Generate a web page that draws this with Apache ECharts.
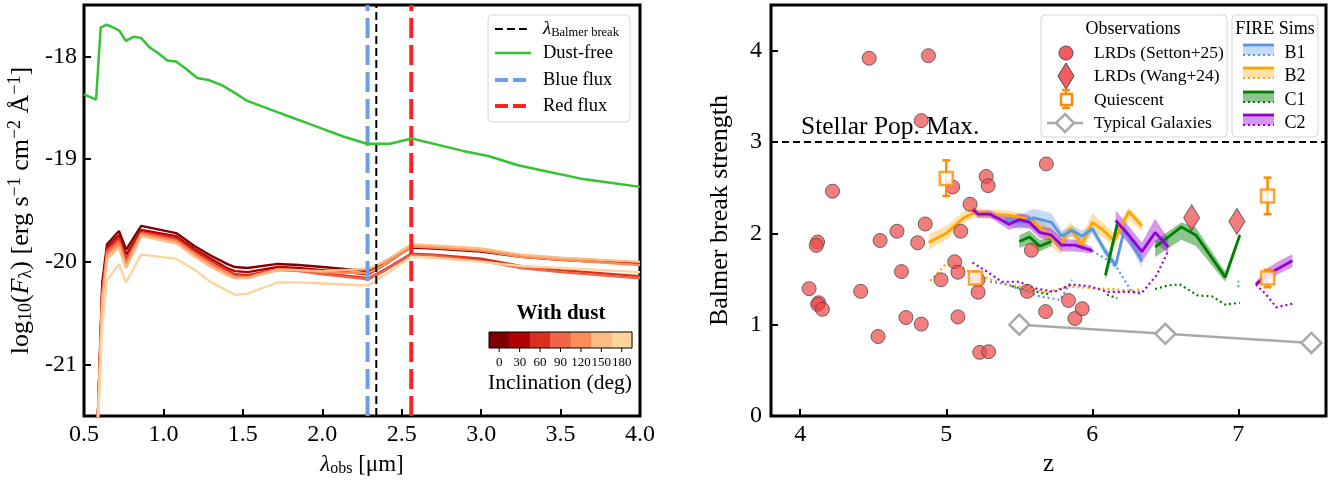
<!DOCTYPE html>
<html>
<head>
<meta charset="utf-8">
<script src="https://cdn.jsdelivr.net/npm/echarts@6/dist/echarts.min.js"></script>
<style>html,body{margin:0;padding:0;background:#fff}#chart{width:1333px;height:482px}</style>
</head>
<body>
<div id="chart"></div>
<script>
// ---------- left panel : model SEDs ----------
const lam = [0.55, 0.585, 0.615, 0.645, 0.72, 0.765, 0.86, 1.08, 1.2, 1.3, 1.4, 1.45, 1.53, 1.72, 1.85, 2.0, 2.29, 2.4, 2.56, 2.7, 3.0, 3.25, 3.5, 4.0]
const dust0 = [-22.5, -21.6, -20.2, -19.83, -19.70, -19.88, -19.65, -19.72, -19.85, -19.94, -20.02, -20.05, -20.06, -20.02, -20.03, -20.05, -20.09, -19.99, -19.86, -19.87, -19.90, -19.95, -19.98, -20.02]
const dust30 = [-22.5, -21.6, -20.25, -19.86, -19.74, -19.93, -19.69, -19.75, -19.88, -19.97, -20.06, -20.09, -20.10, -20.05, -20.06, -20.08, -20.12, -20.02, -19.85, -19.86, -19.89, -19.94, -19.97, -20.01]
const dust60 = [-22.5, -21.6, -20.3, -19.88, -19.77, -19.97, -19.71, -19.77, -19.90, -19.99, -20.08, -20.12, -20.13, -20.07, -20.08, -20.11, -20.16, -20.07, -19.92, -19.93, -19.97, -20.04, -20.08, -20.14]
const dust90 = [-22.5, -21.6, -20.33, -19.90, -19.80, -20.0, -19.72, -19.79, -19.92, -20.02, -20.10, -20.14, -20.15, -20.08, -20.09, -20.12, -20.17, -20.08, -19.93, -19.94, -19.99, -20.06, -20.10, -20.16]
const dust120 = [-22.5, -21.6, -20.36, -19.93, -19.83, -20.03, -19.73, -19.80, -19.93, -20.03, -20.11, -20.15, -20.15, -20.07, -20.08, -20.10, -20.11, -20.02, -19.85, -19.86, -19.89, -19.95, -19.98, -20.03]
const dust150 = [-22.5, -21.6, -20.4, -19.97, -19.86, -20.06, -19.75, -19.82, -19.95, -20.05, -20.13, -20.16, -20.16, -20.08, -20.08, -20.09, -20.07, -19.99, -19.83, -19.84, -19.87, -19.93, -19.96, -20.0]
const dust180 = [-22.5, -21.7, -20.6, -20.18, -20.02, -20.2, -19.93, -19.97, -20.08, -20.20, -20.28, -20.32, -20.31, -20.2, -20.2, -20.21, -20.23, -20.12, -19.95, -19.96, -20.0, -20.04, -20.06, -20.1]
const inclinations = [0, 30, 60, 90, 120, 150, 180]
const dustCurves = [dust0, dust30, dust60, dust90, dust120, dust150, dust180]
const dustColors = ['#7f0000', '#b30000', '#d7301f', '#ef6548', '#fc8d59', '#fdbb84', '#fdd49e']

const freeLam = [0.5, 0.576, 0.605, 0.642, 0.685, 0.722, 0.764, 0.81, 0.859, 0.911, 0.968, 1.025, 1.079, 1.142, 1.213, 1.283, 1.367, 1.444, 1.524, 1.608, 1.713, 1.818, 1.923, 2.028, 2.132, 2.28, 2.426, 2.563, 2.886, 3.045, 3.231, 3.416, 3.628, 3.814, 4.0]
const freeF = [-18.37, -18.42, -17.72, -17.69, -17.72, -17.75, -17.85, -17.81, -17.82, -17.91, -17.97, -18.04, -18.05, -18.12, -18.21, -18.23, -18.28, -18.35, -18.43, -18.48, -18.54, -18.60, -18.66, -18.72, -18.78, -18.85, -18.85, -18.80, -18.92, -18.97, -19.06, -19.12, -19.19, -19.23, -19.27]

const lamBlue = 2.285
const lamBalmer = 2.34
const lamRed = 2.56
const lamTicks = [0.5, 1.0, 1.5, 2.0, 2.5, 3.0, 3.5, 4.0]
const fluxTicks = [-21, -20, -19, -18]

// ---------- right panel : Balmer break strength ----------
const settonZ = [4.472, 4.878, 4.829, 4.221, 4.119, 4.110, 4.061, 4.127, 4.119, 4.152, 4.414, 4.533, 4.547, 4.663, 4.693, 4.724, 4.829, 4.804, 4.856, 4.964, 5.044, 5.058, 5.080, 5.080, 5.099, 5.163, 5.218, 5.218, 5.229, 5.290, 5.273, 5.287, 5.583, 5.555, 5.685, 5.680, 5.837, 5.881, 5.931]
const settonY = [3.917, 3.945, 3.234, 2.461, 1.904, 1.868, 1.394, 1.240, 1.222, 1.168, 1.365, 0.870, 1.922, 2.023, 1.581, 1.078, 1.006, 1.897, 2.102, 1.491, 2.508, 1.689, 1.574, 1.085, 2.023, 2.318, 1.491, 1.355, 0.697, 0.704, 2.623, 2.522, 1.815, 1.365, 2.760, 1.143, 1.265, 1.067, 1.175]
const wangZ = [6.68, 6.99]
const wangY = [2.17, 2.13]
const quiesZ = [5.0, 5.2, 7.2, 7.2]
const quiesY = [2.60, 1.51, 2.41, 1.51]
const quiesLo = [2.41, 1.44, 2.21, 1.41]
const quiesHi = [2.80, 1.58, 2.61, 1.60]
const typZ = [5.5, 6.5, 7.5]
const typY = [1.0, 0.9, 0.8]
const stellarMax = 3
const zTicks = [4, 5, 6, 7]
const bbTicks = [0, 1, 2, 3, 4]

// FIRE sims (null splits a line into pieces)
const b1Z = [5.4, 5.5, 5.6, 5.72, 5.79, 5.86, 5.93, 6.0, 6.09, 6.16, 6.22, 6.34]
const b1Y = [2.15, 2.12, 2.17, 2.12, 1.97, 2.03, 1.97, 2.05, 1.80, 1.65, 2.05, 1.69]
const b1Lo = [2.10, 2.05, 2.07, 2.03, 1.92, 1.97, 1.92, 2.0, 1.75, 1.6, 1.98, 1.62]
const b1Hi = [2.20, 2.20, 2.27, 2.22, 2.03, 2.08, 2.03, 2.1, 1.85, 1.7, 2.1, 1.76]
const b1DotZ = [5.3, 5.4, 5.55, 5.64, 5.78, 5.86, null, 6.0, 6.09, 6.17, 6.27, 6.34, null, 7.0, 7.0]
const b1DotY = [1.47, 1.45, 1.36, 1.31, 1.27, 1.49, null, 1.81, 1.72, 1.62, 1.36, 1.33, null, 1.41, 1.48]

const b2Z = [4.88, 5.0, 5.12, 5.2, 5.3, 5.43, 5.55, 5.63, 5.7, 5.78, 5.85, 5.93, 6.0, 6.07, 6.15, 6.25, 6.34]
const b2Y = [1.90, 2.00, 2.17, 2.23, 2.21, 2.20, 2.16, 2.08, 1.98, 1.88, 2.05, 1.88, 2.12, 2.04, 1.92, 2.24, 2.08]
const b2Lo = [1.82, 1.93, 2.12, 2.17, 2.16, 2.15, 2.10, 2.00, 1.88, 1.77, 1.97, 1.80, 2.02, 1.96, 1.85, 2.15, 2.02]
const b2Hi = [1.99, 2.08, 2.24, 2.28, 2.26, 2.25, 2.21, 2.16, 2.08, 1.98, 2.12, 1.97, 2.22, 2.12, 2.00, 2.28, 2.13]
const b2DotZ = [4.89, 4.99, 5.07, 5.16, 5.28, 5.4, 5.55, 5.69, 5.84, 5.98, 6.13, 6.27, 6.34]
const b2DotY = [1.48, 1.65, 1.66, 1.58, 1.51, 1.44, 1.41, 1.35, 1.42, 1.40, 1.39, 1.37, 1.39]

const c1Z = [5.5, 5.57, 5.64, 5.72, null, 6.09, 6.17, null, 6.43, 6.61, 6.71, 6.91, 7.01]
const c1Y = [1.91, 1.96, 1.86, 1.91, null, 1.54, 2.10, null, 1.85, 2.07, 1.98, 1.52, 1.98]
const c1Lo = [1.84, 1.88, 1.80, 1.86, null, 1.48, 2.02, null, 1.74, 1.93, 1.86, 1.47, 1.95]
const c1Hi = [1.98, 2.03, 1.93, 1.95, null, 1.60, 2.16, null, 1.92, 2.12, 2.06, 1.58, 2.01]
const c1DotZ = [5.45, 5.55, 5.65, 5.72, null, 6.1, 6.17, null, 6.43, 6.52, 6.6, 6.72, 6.82, 6.91, 7.01]
const c1DotY = [1.42, 1.38, 1.35, 1.33, null, 1.33, 1.29, null, 1.39, 1.43, 1.44, 1.32, 1.31, 1.22, 1.24]

const c2Z = [5.18, 5.22, 5.3, 5.36, 5.43, 5.5, 5.57, 5.64, 5.72, 5.79, 5.88, 6.0, null, 6.16, 6.25, 6.34, 6.43, 6.52, null, 7.12, 7.2, 7.28, 7.37]
const c2Y = [2.26, 2.21, 2.21, 2.16, 2.10, 2.15, 2.12, 2.01, 1.98, 1.87, 1.87, 1.81, null, 2.14, 1.98, 1.80, 2.01, 1.85, null, 1.44, 1.55, 1.62, 1.70]
const c2Lo = [2.22, 2.17, 2.17, 2.11, 2.04, 2.07, 2.05, 1.95, 1.92, 1.80, 1.80, 1.78, null, 2.05, 1.88, 1.69, 1.90, 1.78, null, 1.42, 1.48, 1.56, 1.63]
const c2Hi = [2.30, 2.25, 2.25, 2.21, 2.18, 2.22, 2.19, 2.08, 2.05, 1.94, 1.93, 1.85, null, 2.25, 2.08, 1.90, 2.16, 1.94, null, 1.47, 1.62, 1.70, 1.77]
const c2DotZ = [5.18, 5.28, 5.38, 5.5, 5.6, 5.74, 5.86, 5.98, 6.1, 6.25, 6.34, 6.44, 6.52, null, 7.12, 7.19, 7.26, 7.37]
const c2DotY = [1.68, 1.58, 1.47, 1.47, 1.40, 1.36, 1.44, 1.42, 1.36, 1.36, 1.35, 1.54, 1.81, null, 1.44, 1.33, 1.19, 1.23]

const FONT = "'Liberation Serif', 'DejaVu Serif', serif"
const BLUE = '#5a96e3', ORANGE = '#ffa500', GREEN = '#008000', PURPLE = '#9400d3'
const LRD = 'rgba(240,70,70,0.88)'

function segments(xs, ys) {
  const out = []
  let cur = []
  xs.forEach((x, i) => {
    if (x === null) { if (cur.length) out.push(cur); cur = [] }
    else cur.push([x, ys[i]])
  })
  if (cur.length) out.push(cur)
  return out
}

function simLines(zs, ys, color, dotted) {
  return segments(zs, ys).map(seg => ({
    type: 'line', xAxisIndex: 1, yAxisIndex: 1, data: seg, symbol: 'none', z: dotted ? 3 : 4,
    silent: true,
    lineStyle: dotted ? { color: color, width: 2.2, type: [2, 3] } : { color: color, width: 2.8 }
  }))
}

function simBand(zs, lo, hi, color, opacity) {
  const low = segments(zs, lo), high = segments(zs, hi)
  return {
    type: 'custom', xAxisIndex: 1, yAxisIndex: 1, z: 2, silent: true,
    data: low.map((s, i) => [s[0][0], s[0][1], i]),
    renderItem: function (params, api) {
      const i = params.dataIndex
      const up = high[i].map(p => api.coord(p))
      const dn = low[i].map(p => api.coord(p)).reverse()
      return { type: 'polygon', shape: { points: up.concat(dn) }, style: { fill: color, opacity: opacity } }
    }
  }
}

const chart = echarts.init(document.getElementById('chart'), null, { renderer: 'canvas' })

const tickLabel = { color: '#000', fontSize: 24, fontFamily: FONT }
const tickStyle = { inside: true, length: 7, lineStyle: { color: '#000', width: 2 } }

let series = []

// left: dusty curves
dustCurves.forEach((arr, k) => {
  series.push({
    name: inclinations[k] + ' deg', type: 'line', xAxisIndex: 0, yAxisIndex: 0, symbol: 'none', clip: true, z: 2,
    data: lam.map((l, i) => [l, arr[i]]),
    lineStyle: { color: dustColors[k], width: 2.4 }
  })
})
// vertical markers
const vline = (x, color, width, dash, z) => ({
  type: 'line', xAxisIndex: 0, yAxisIndex: 0, symbol: 'none', z: z, silent: true,
  data: [[x, -21.5], [x, -17.5]],
  lineStyle: { color: color, width: width, type: dash }
})
series.push(vline(lamBlue, '#6d9eeb', 4, [20, 7], 3))
series.push(vline(lamRed, '#ff2222', 4, [20, 7], 3))
series.push(vline(lamBalmer, '#000', 2, [8, 4], 3))
series.push({
  name: 'Dust-free', type: 'line', xAxisIndex: 0, yAxisIndex: 0, symbol: 'none', z: 4,
  data: freeLam.map((l, i) => [l, freeF[i]]),
  lineStyle: { color: '#33c433', width: 2.5 }
})

// right: sims
series.push(simBand(b2Z, b2Lo, b2Hi, ORANGE, 0.35))
series.push(simBand(b1Z, b1Lo, b1Hi, BLUE, 0.35))
series.push(simBand(c1Z, c1Lo, c1Hi, GREEN, 0.45))
series.push(simBand(c2Z, c2Lo, c2Hi, PURPLE, 0.4))
series = series.concat(
  simLines(b2DotZ, b2DotY, ORANGE, true),
  simLines(b1DotZ, b1DotY, BLUE, true),
  simLines(c1DotZ, c1DotY, GREEN, true),
  simLines(c2DotZ, c2DotY, PURPLE, true),
  simLines(b2Z, b2Y, ORANGE, false),
  simLines(b1Z, b1Y, BLUE, false),
  simLines(c1Z, c1Y, GREEN, false),
  simLines(c2Z, c2Y, PURPLE, false)
)
// stellar max
series.push({
  type: 'line', xAxisIndex: 1, yAxisIndex: 1, symbol: 'none', z: 3, silent: true,
  data: [[3.8, stellarMax], [7.6, stellarMax]],
  lineStyle: { color: '#000', width: 2, type: [7, 4] }
})
// typical galaxies
series.push({
  name: 'Typical Galaxies', type: 'line', xAxisIndex: 1, yAxisIndex: 1, z: 5, clip: false,
  data: typZ.map((z, i) => [z, typY[i]]),
  symbol: 'diamond', symbolSize: 20,
  lineStyle: { color: '#a9a9a9', width: 2.5 },
  itemStyle: { color: '#fff', borderColor: '#a9a9a9', borderWidth: 2.5 }
})
// setton circles
series.push({
  name: 'LRDs (Setton+25)', type: 'scatter', xAxisIndex: 1, yAxisIndex: 1, z: 6,
  data: settonZ.map((z, i) => [z, settonY[i]]),
  symbol: 'circle', symbolSize: 14,
  itemStyle: { color: LRD, borderColor: '#4a4a4a', borderWidth: 1 }
})
// wang diamonds
series.push({
  name: 'LRDs (Wang+24)', type: 'scatter', xAxisIndex: 1, yAxisIndex: 1, z: 6,
  data: wangZ.map((z, i) => [z, wangY[i]]),
  symbol: 'diamond', symbolSize: [16, 26],
  itemStyle: { color: LRD, borderColor: '#4a4a4a', borderWidth: 1 }
})
// quiescent error bars + squares
series.push({
  type: 'custom', xAxisIndex: 1, yAxisIndex: 1, z: 7, silent: true,
  data: quiesZ.map((z, i) => [z, quiesLo[i], quiesHi[i]]),
  renderItem: function (params, api) {
    const lo = api.coord([api.value(0), api.value(1)])
    const hi = api.coord([api.value(0), api.value(2)])
    const st = { stroke: '#ff8c00', lineWidth: 2.5 }
    return {
      type: 'group', children: [
        { type: 'line', shape: { x1: lo[0], y1: lo[1], x2: hi[0], y2: hi[1] }, style: st },
        { type: 'line', shape: { x1: lo[0] - 4, y1: lo[1], x2: lo[0] + 4, y2: lo[1] }, style: st },
        { type: 'line', shape: { x1: hi[0] - 4, y1: hi[1], x2: hi[0] + 4, y2: hi[1] }, style: st }
      ]
    }
  }
})
series.push({
  name: 'Quiescent', type: 'scatter', xAxisIndex: 1, yAxisIndex: 1, z: 8,
  data: quiesZ.map((z, i) => [z, quiesY[i]]),
  symbol: 'rect', symbolSize: 13,
  itemStyle: { color: '#fff', borderColor: '#ff8c00', borderWidth: 2.5 }
})

// ----- legends / annotations -----
const txt = (x, y, text, size, extra) => Object.assign({
  type: 'text', x: x, y: y, z: 100,
  style: Object.assign({ text: text, fontFamily: FONT, fontSize: size, fill: '#000', verticalAlign: 'middle' }, extra || {})
})
const seg = (x1, y1, x2, y2, stroke, w, dash) => ({
  type: 'line', z: 100, shape: { x1, y1, x2, y2 }, style: { stroke: stroke, lineWidth: w, lineDash: dash || null }
})

const graphics = []
// left legend
graphics.push({ type: 'rect', z: 99, shape: { x: 488, y: 15, width: 142, height: 107, r: 4 }, style: { fill: 'rgba(255,255,255,0.85)', stroke: '#d6d6d6', lineWidth: 1 } })
graphics.push(seg(495, 29, 531, 29, '#000', 2, [8, 4]))
graphics.push(txt(543, 29, '{i|λ}{s|Balmer break}', 18, {
  rich: { i: { fontFamily: FONT, fontSize: 19, fontStyle: 'italic' }, s: { fontFamily: FONT, fontSize: 12.5, padding: [8, 0, 0, 0] } }
}))
graphics.push(seg(495, 53, 531, 53, '#33c433', 2.5))
graphics.push(txt(543, 53, 'Dust-free', 18.5))
graphics.push(seg(495, 80, 531, 80, '#6d9eeb', 4, [13, 5]))
graphics.push(txt(543, 80, 'Blue flux', 18.5))
graphics.push(seg(495, 106, 531, 106, '#ff2222', 4, [13, 5]))
graphics.push(txt(543, 106, 'Red flux', 18.5))
// colorbar
graphics.push(txt(561, 314, 'With dust', 21, { align: 'center', fontWeight: 'bold' }))
const cbX = 489, cbW = 143, cbY = 332, cbH = 16
inclinations.forEach((inc, k) => {
  const w = cbW / inclinations.length
  graphics.push({ type: 'rect', z: 99, shape: { x: cbX + k * w, y: cbY, width: w + 0.5, height: cbH }, style: { fill: dustColors[k] } })
  const cx = cbX + (k + 0.5) * w
  graphics.push(seg(cx, cbY + cbH, cx, cbY + cbH + 4, '#000', 1))
  graphics.push(txt(cx, 363, String(inc), 13, { align: 'center' }))
})
graphics.push({ type: 'rect', z: 100, shape: { x: cbX, y: cbY, width: cbW, height: cbH }, style: { fill: 'none', stroke: '#000', lineWidth: 1 } })
graphics.push(txt(560, 383, 'Inclination (deg)', 21.5, { align: 'center' }))

// right: stellar pop max label
graphics.push(txt(801, 127, 'Stellar Pop. Max.', 25.5))
// observations legend
graphics.push({ type: 'rect', z: 99, shape: { x: 1041, y: 15, width: 186, height: 122, r: 4 }, style: { fill: 'rgba(255,255,255,0.85)', stroke: '#d6d6d6', lineWidth: 1 } })
graphics.push(txt(1133, 29, 'Observations', 18, { align: 'center' }))
graphics.push({ type: 'circle', z: 100, shape: { cx: 1066, cy: 53, r: 7 }, style: { fill: LRD, stroke: '#4a4a4a', lineWidth: 1 } })
graphics.push(txt(1094, 53, 'LRDs (Setton+25)', 17.5))
graphics.push({ type: 'polygon', z: 100, shape: { points: [[1066, 63], [1074, 76], [1066, 89], [1058, 76]] }, style: { fill: LRD, stroke: '#4a4a4a', lineWidth: 1 } })
graphics.push(txt(1094, 76, 'LRDs (Wang+24)', 17.5))
graphics.push(seg(1066, 90, 1066, 108, '#ff8c00', 2.5))
graphics.push(seg(1062, 90, 1070, 90, '#ff8c00', 2.5))
graphics.push(seg(1062, 108, 1070, 108, '#ff8c00', 2.5))
graphics.push({ type: 'rect', z: 100, shape: { x: 1061, y: 94, width: 11, height: 11 }, style: { fill: '#fff', stroke: '#ff8c00', lineWidth: 2.5 } })
graphics.push(txt(1094, 100, 'Quiescent', 17.5))
graphics.push(seg(1047, 123, 1083, 123, '#a9a9a9', 2.5))
graphics.push({ type: 'polygon', z: 101, shape: { points: [[1065, 114], [1074, 123], [1065, 132], [1056, 123]] }, style: { fill: '#fff', stroke: '#a9a9a9', lineWidth: 2.5 } })
graphics.push(txt(1094, 123, 'Typical Galaxies', 17.5))
// FIRE sims legend
graphics.push({ type: 'rect', z: 99, shape: { x: 1232, y: 15, width: 86, height: 122, r: 4 }, style: { fill: 'rgba(255,255,255,0.85)', stroke: '#d6d6d6', lineWidth: 1 } })
graphics.push(txt(1275, 29, 'FIRE Sims', 18, { align: 'center' }))
;[['B1', BLUE, 0.35], ['B2', ORANGE, 0.35], ['C1', GREEN, 0.45], ['C2', PURPLE, 0.4]].forEach((s, k) => {
  const y = [53, 76, 100, 123][k]
  graphics.push({ type: 'rect', z: 100, shape: { x: 1243, y: y - 8, width: 31, height: 10 }, style: { fill: s[1], opacity: s[2] } })
  graphics.push(seg(1243, y - 8, 1274, y - 8, s[1], 2.8))
  graphics.push(seg(1243, y + 2, 1274, y + 2, s[1], 2, [2, 3]))
  graphics.push(txt(1295, y, s[0], 18, { align: 'center' }))
})

const option = {
  animation: false,
  backgroundColor: '#fff',
  grid: [
    { left: 84, right: 693, top: 5, bottom: 60, show: true, borderColor: '#000', borderWidth: 3, backgroundColor: 'transparent' },
    { left: 771, right: 7, top: 5, bottom: 60, show: true, borderColor: '#000', borderWidth: 3, backgroundColor: 'transparent' }
  ],
  xAxis: [
    {
      gridIndex: 0, type: 'value', min: 0.5, max: 4.0,
      axisLine: { show: false }, splitLine: { show: false },
      axisTick: Object.assign({ customValues: lamTicks }, tickStyle),
      axisLabel: Object.assign({ customValues: lamTicks, margin: 7, formatter: v => v.toFixed(1) }, tickLabel),
      name: '{i|λ}{s|obs}{t| [μm]}', nameLocation: 'middle', nameGap: 36,
      nameTextStyle: {
        fontFamily: FONT, fontSize: 23, color: '#000',
        rich: {
          i: { fontFamily: FONT, fontSize: 23, fontStyle: 'italic' },
          s: { fontFamily: FONT, fontSize: 16, padding: [9, 0, 0, 0] },
          t: { fontFamily: FONT, fontSize: 23 }
        }
      }
    },
    {
      gridIndex: 1, type: 'value', min: 3.8, max: 7.6,
      axisLine: { show: false }, splitLine: { show: false },
      axisTick: Object.assign({ customValues: zTicks }, tickStyle),
      axisLabel: Object.assign({ customValues: zTicks, margin: 7 }, tickLabel),
      name: 'z', nameLocation: 'middle', nameGap: 36,
      nameTextStyle: { fontFamily: FONT, fontSize: 25, color: '#000' }
    }
  ],
  yAxis: [
    {
      gridIndex: 0, type: 'value', min: -21.5, max: -17.5,
      axisLine: { show: false }, splitLine: { show: false },
      axisTick: Object.assign({ customValues: fluxTicks }, tickStyle),
      axisLabel: Object.assign({ customValues: fluxTicks, margin: 7, formatter: v => String(v) }, tickLabel),
      name: '{t|log}{s|10}{t|(}{i|F}{s|λ}{t|) [erg s}{p|−1}{t| cm}{p|−2}{t| Å}{p|−1}{t|]}',
      nameLocation: 'middle', nameGap: 48, nameRotate: 90,
      nameTextStyle: {
        fontFamily: FONT, fontSize: 26, color: '#000',
        rich: {
          t: { fontFamily: FONT, fontSize: 26 },
          i: { fontFamily: FONT, fontSize: 26, fontStyle: 'italic' },
          s: { fontFamily: FONT, fontSize: 18, padding: [10, 0, 0, 0] },
          p: { fontFamily: FONT, fontSize: 18, padding: [0, 0, 12, 0] }
        }
      }
    },
    {
      gridIndex: 1, type: 'value', min: 0, max: 4.5,
      axisLine: { show: false }, splitLine: { show: false },
      axisTick: Object.assign({ customValues: bbTicks }, tickStyle),
      axisLabel: Object.assign({ customValues: bbTicks, margin: 9 }, tickLabel),
      name: 'Balmer break strength', nameLocation: 'middle', nameGap: 38, nameRotate: 90,
      nameTextStyle: { fontFamily: FONT, fontSize: 26, color: '#000' }
    }
  ],
  series: series,
  graphic: graphics
}

chart.setOption(option)
</script>
</body>
</html>
